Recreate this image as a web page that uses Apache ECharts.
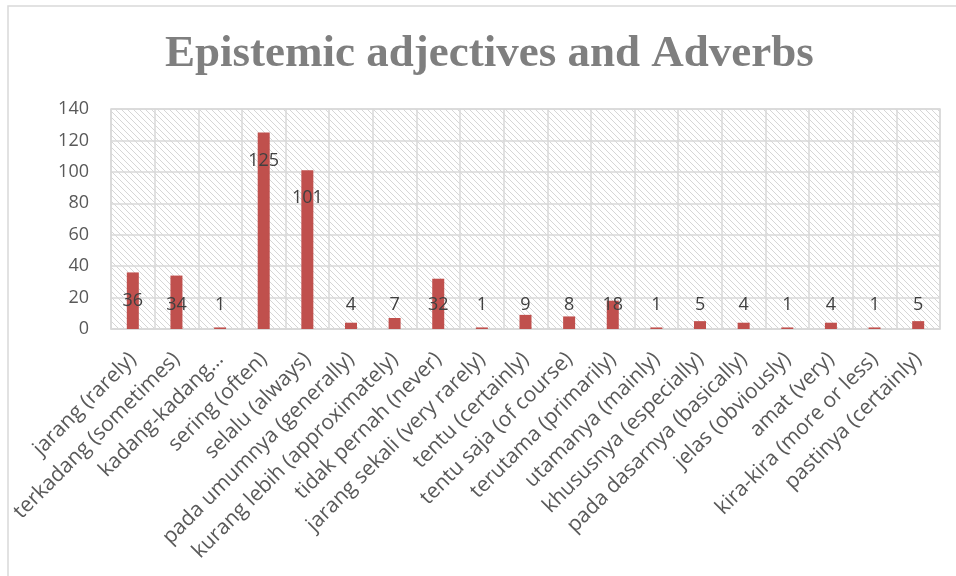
<!DOCTYPE html>
<html>
<head>
<meta charset="utf-8">
<script src="https://cdn.jsdelivr.net/npm/echarts@6/dist/echarts.min.js"></script>
<style>html,body{margin:0;padding:0;background:#fff}#c{width:956px;height:576px}</style>
</head>
<body>
<div id="c"></div>
<script>
const titleText = 'Epistemic adjectives and Adverbs';
const categories = [
  'jarang (rarely)', 'terkadang (sometimes)', 'kadang-kadang…', 'sering (often)',
  'selalu (always)', 'pada umumnya (generally)', 'kurang lebih (approximately)',
  'tidak pernah (never)', 'jarang sekali (very rarely)', 'tentu (certainly)',
  'tentu saja (of course)', 'terutama (primarily)', 'utamanya (mainly)',
  'khususnya (especially)', 'pada dasarnya (basically)', 'jelas (obviously)',
  'amat (very)', 'kira-kira (more or less)', 'pastinya (certainly)'
];
const values = [36, 34, 1, 125, 101, 4, 7, 32, 1, 9, 8, 18, 1, 5, 4, 1, 4, 1, 5];
const yTicks = [0, 20, 40, 60, 80, 100, 120, 140];

// hatch pattern
const tile = document.createElement('canvas');
tile.width = 6; tile.height = 6;
const g = tile.getContext('2d');
g.fillStyle = '#ffffff'; g.fillRect(0, 0, 6, 6);
g.strokeStyle = '#d6d6d6'; g.lineWidth = 1;
g.beginPath();
g.moveTo(-1, -1); g.lineTo(7, 7);
g.moveTo(-4, 2); g.lineTo(4, 10);
g.moveTo(2, -4); g.lineTo(10, 4);
g.stroke();

const chart = echarts.init(document.getElementById('c'), null, {renderer: 'canvas'});
const labelFont = '"Open Sans", "Noto Sans", sans-serif';
chart.setOption({
  animation: false,
  backgroundColor: '#ffffff',
  graphic: [{
    type: 'rect', z: -1,
    shape: {x: 8, y: 6, width: 970, height: 590},
    style: {fill: 'none', stroke: '#d9d9d9', lineWidth: 1.5}
  }],
  title: {
    text: titleText,
    left: 160, top: 27,
    textStyle: {fontFamily: '"Liberation Serif", serif', fontWeight: 'bold', fontSize: 45, color: '#7f7f7f'}
  },
  grid: {
    left: 111, right: 16, top: 109, bottom: 247,
    show: true, borderColor: '#d9d9d9', borderWidth: 1.5,
    backgroundColor: {image: tile, repeat: 'repeat'}
  },
  xAxis: {
    type: 'category', data: categories,
    axisLine: {lineStyle: {color: '#d9d9d9', width: 1.5}},
    axisTick: {show: false},
    splitLine: {show: true, lineStyle: {color: '#d9d9d9', width: 1.5}},
    axisLabel: {interval: 0, rotate: 45, margin: 27, color: '#595959', fontSize: 21, fontFamily: labelFont}
  },
  yAxis: {
    type: 'value', min: yTicks[0], max: yTicks[yTicks.length - 1], interval: 20,
    axisLine: {show: false}, axisTick: {show: false},
    splitLine: {lineStyle: {color: '#d9d9d9', width: 1.5}},
    axisLabel: {margin: 22, color: '#595959', fontSize: 18, fontFamily: labelFont}
  },
  series: [{
    type: 'bar', barWidth: 12,
    itemStyle: {color: '#C0504D'},
    label: {show: true, color: '#404040', fontSize: 18, fontFamily: labelFont},
    data: values.map(v => ({
      value: v,
      label: v > 34 ? {position: 'insideTop', distance: 19} : {position: 'insideBottom', distance: 15}
    }))
  }]
});
</script>
</body>
</html>
